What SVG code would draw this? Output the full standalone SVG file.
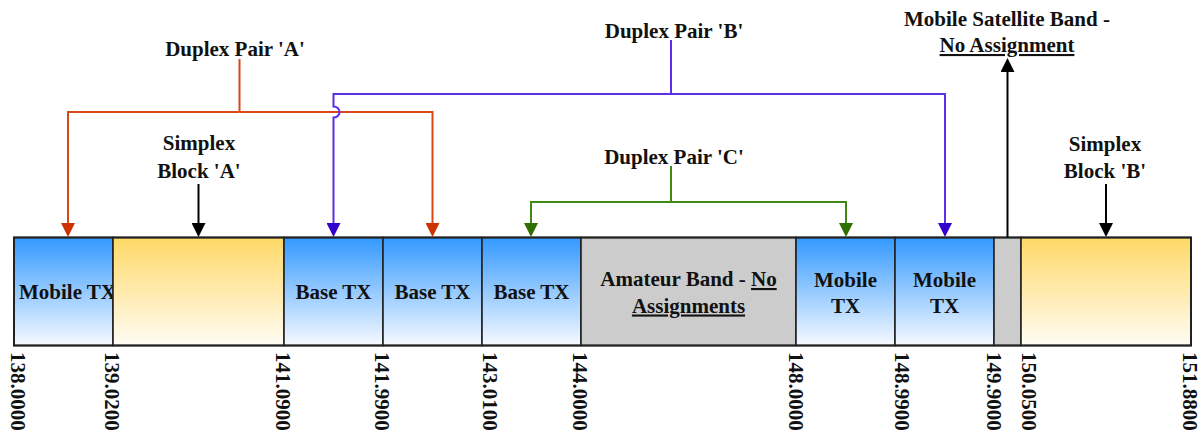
<svg xmlns="http://www.w3.org/2000/svg" width="1203" height="432" viewBox="0 0 1203 432">
<style>
text{font-family:"Liberation Serif","Times New Roman",serif;font-weight:bold;font-size:21px;fill:#111}
.c{text-anchor:middle}
.cell{stroke:#222;stroke-width:1.6}
.blue{fill:url(#gBlue)}
.yel{fill:url(#gYel)}
.gray{fill:#CCCCCC}
.u{text-decoration:underline}
.ln{fill:none;stroke-width:2}
</style>
<defs>
<linearGradient id="gBlue" x1="0" y1="0" x2="0" y2="1">
<stop offset="0" stop-color="#3399FF"/>
<stop offset="1" stop-color="#F7FAFF"/>
</linearGradient>
<linearGradient id="gYel" x1="0" y1="0" x2="0" y2="1">
<stop offset="0" stop-color="#FFD966"/>
<stop offset="1" stop-color="#FFFCF5"/>
</linearGradient>
<marker id="aR" markerUnits="userSpaceOnUse" markerWidth="14" markerHeight="14" refX="10" refY="7" orient="auto"><path d="M0,0 L14,7 L0,14 z" fill="#CC3300"/></marker>
<marker id="aB" markerUnits="userSpaceOnUse" markerWidth="14" markerHeight="14" refX="10" refY="7" orient="auto"><path d="M0,0 L14,7 L0,14 z" fill="#3300CC"/></marker>
<marker id="aG" markerUnits="userSpaceOnUse" markerWidth="14" markerHeight="14" refX="10" refY="7" orient="auto"><path d="M0,0 L14,7 L0,14 z" fill="#2F6E00"/></marker>
<marker id="aK" markerUnits="userSpaceOnUse" markerWidth="14" markerHeight="14" refX="10" refY="7" orient="auto"><path d="M0,0 L14,7 L0,14 z" fill="#000"/></marker>
</defs>
<rect width="1203" height="432" fill="#fff"/>

<g id="cell-mobile-tx-1">
<rect class="cell blue" x="14" y="237.5" width="99" height="108"/>
<text x="19" y="299">Mobile TX</text>
</g>
<g id="cell-simplex-a">
<rect class="cell yel" x="113" y="237.5" width="171" height="108"/>
</g>
<g id="cell-base-tx-1">
<rect class="cell blue" x="284" y="237.5" width="99" height="108"/>
<text class="c" x="333.5" y="299">Base TX</text>
</g>
<g id="cell-base-tx-2">
<rect class="cell blue" x="383" y="237.5" width="99" height="108"/>
<text class="c" x="432.5" y="299">Base TX</text>
</g>
<g id="cell-base-tx-3">
<rect class="cell blue" x="482" y="237.5" width="99" height="108"/>
<text class="c" x="531.5" y="299">Base TX</text>
</g>
<g id="cell-amateur">
<rect class="cell gray" x="581" y="237.5" width="215" height="108"/>
<text class="c" x="688.5" y="286">Amateur Band - <tspan class="u">No</tspan></text>
<text class="c u" x="688.5" y="312.5">Assignments</text>
</g>
<g id="cell-mobile-tx-2">
<rect class="cell blue" x="796" y="237.5" width="99" height="108"/>
<text class="c" x="845.5" y="286.5">Mobile</text>
<text class="c" x="845.5" y="312.5">TX</text>
</g>
<g id="cell-mobile-tx-3">
<rect class="cell blue" x="895" y="237.5" width="99" height="108"/>
<text class="c" x="944.5" y="286.5">Mobile</text>
<text class="c" x="944.5" y="312.5">TX</text>
</g>
<g id="cell-satellite">
<rect class="cell gray" x="994" y="237.5" width="27" height="108"/>
</g>
<g id="cell-simplex-b">
<rect class="cell yel" x="1021" y="237.5" width="170" height="108"/>
</g>
<rect x="14" y="237.5" width="1177" height="108" fill="none" stroke="#222" stroke-width="2"/>

<g id="freq-labels">
<text transform="translate(11,352) rotate(90)">138.0000</text>
<text transform="translate(105,352) rotate(90)">139.0200</text>
<text transform="translate(275.5,352) rotate(90)">141.0900</text>
<text transform="translate(375,352) rotate(90)">141.9900</text>
<text transform="translate(482.5,352) rotate(90)">143.0100</text>
<text transform="translate(573,352) rotate(90)">144.0000</text>
<text transform="translate(788.5,352) rotate(90)">148.0000</text>
<text transform="translate(895,352) rotate(90)">148.9900</text>
<text transform="translate(986.5,352) rotate(90)">149.9000</text>
<text transform="translate(1022,352) rotate(90)">150.0500</text>
<text transform="translate(1183,352) rotate(90)">151.8800</text>
</g>

<g id="label-duplex-a"><text class="c" x="235" y="56">Duplex Pair 'A'</text></g>
<g id="label-simplex-a"><text class="c" x="199" y="150">Simplex</text><text class="c" x="199" y="177.5">Block 'A'</text></g>
<g id="label-duplex-b"><text class="c" x="674" y="37.5">Duplex Pair 'B'</text></g>
<g id="label-duplex-c"><text class="c" x="674" y="163.5">Duplex Pair 'C'</text></g>
<g id="label-satellite"><text class="c" x="1007" y="26">Mobile Satellite Band -</text><text class="c u" x="1007" y="52">No Assignment</text></g>
<g id="label-simplex-b"><text class="c" x="1105" y="150.5">Simplex</text><text class="c" x="1105" y="177.5">Block 'B'</text></g>

<g id="connectors">
<path class="ln" stroke="#D9471A" d="M239.5,59 V112"/>
<path class="ln" stroke="#D9471A" d="M239.5,112 H68 V233" marker-end="url(#aR)"/>
<path class="ln" stroke="#D9471A" d="M239.5,112 H432.5 V233" marker-end="url(#aR)"/>
<path class="ln" stroke="#5B2EEA" d="M671,40 V94"/>
<path class="ln" stroke="#5B2EEA" d="M671,94 H333.5 V106.5 A6 5.5 0 0 1 333.5 117.5 V233" marker-end="url(#aB)"/>
<path class="ln" stroke="#5B2EEA" d="M671,94 H945 V233" marker-end="url(#aB)"/>
<path class="ln" stroke="#3F8A14" d="M671,166 V202"/>
<path class="ln" stroke="#3F8A14" d="M671,202 H531 V233" marker-end="url(#aG)"/>
<path class="ln" stroke="#3F8A14" d="M671,202 H846 V233" marker-end="url(#aG)"/>
<path class="ln" stroke="#000" d="M198.5,184 V233" marker-end="url(#aK)"/>
<path class="ln" stroke="#000" d="M1106,184 V233" marker-end="url(#aK)"/>
<path class="ln" stroke="#000" d="M1007.5,237.5 V62" marker-end="url(#aK)"/>
</g>
</svg>
